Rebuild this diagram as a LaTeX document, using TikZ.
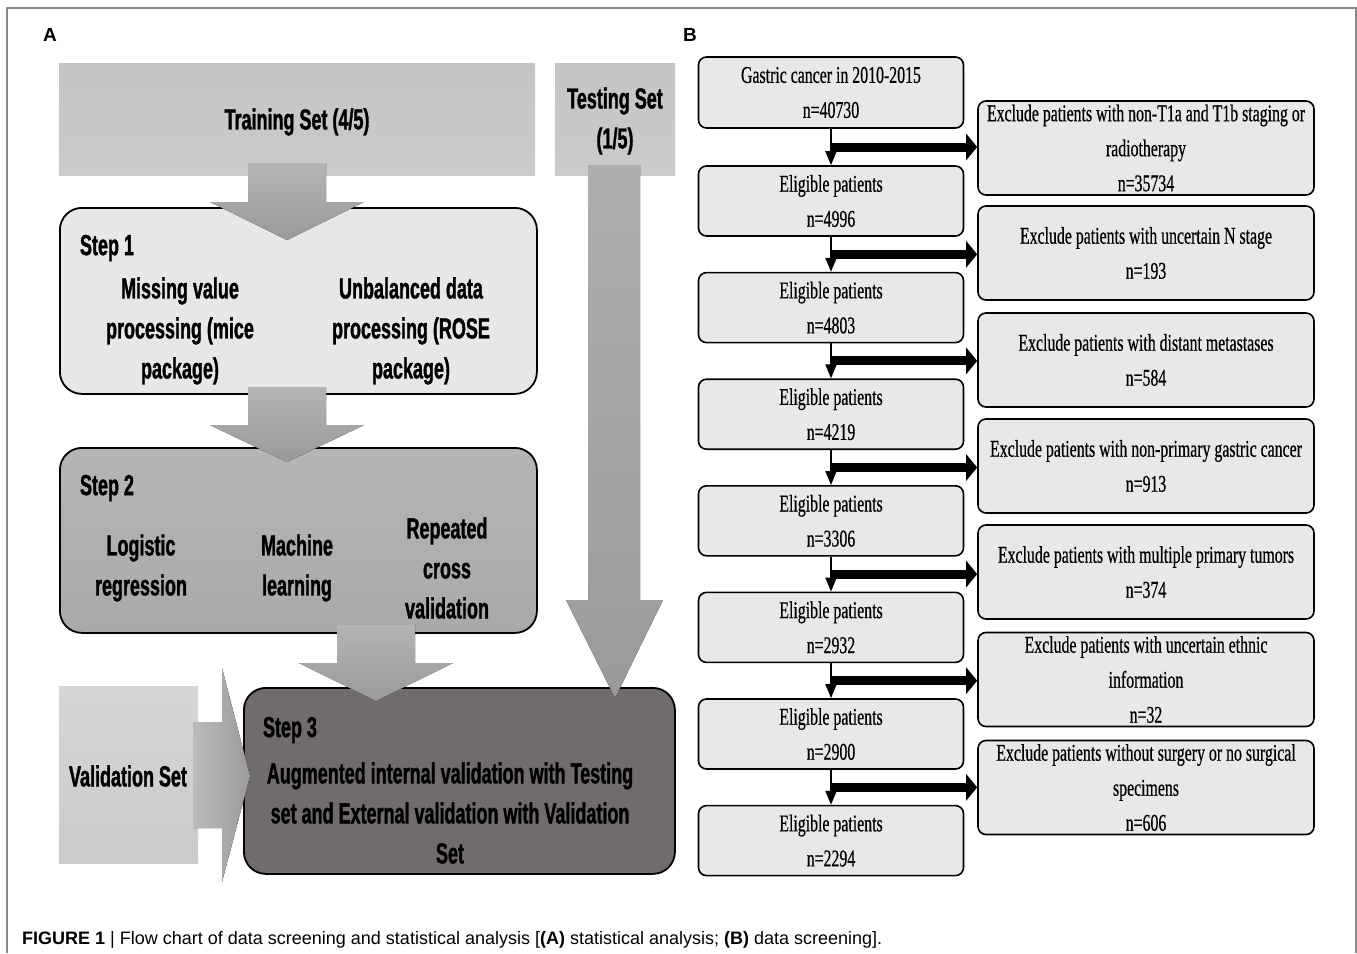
\documentclass[tikz,border=0pt]{standalone}
\usepackage{fontspec}
\setmainfont{Liberation Sans}
\newfontfamily\Acond[FakeStretch=0.62,FakeBold=1.2]{Liberation Sans Bold}
\newfontfamily\Bcond[FakeStretch=0.66,FakeBold=0.5]{Liberation Serif}
\newfontfamily\capfont{Liberation Sans}
\usetikzlibrary{arrows.meta,calc}
\definecolor{framegray}{HTML}{8A8A8A}
\definecolor{setgray}{HTML}{CBCBCB}
\definecolor{setgraytop}{HTML}{C4C4C4}
\definecolor{stepone}{HTML}{E7E7E7}
\definecolor{steptwo}{HTML}{A9A9A9}
\definecolor{stepthree}{HTML}{716B6C}
\definecolor{arrowlight}{HTML}{B4B4B4}
\definecolor{arrowdark}{HTML}{9A9A9A}
\definecolor{bboxgray}{HTML}{E8E8E8}
\begin{document}
\begin{tikzpicture}[x=1pt,y=-1pt,
  setbox/.style={inner sep=0pt, top color=setgraytop, bottom color=setgray, anchor=north west},
  stepbox/.style={draw=black, line width=1.8pt, rounded corners=22pt, inner sep=0pt, anchor=north west},
  atext/.style={font=\fontsize{29}{40}\selectfont\Acond, align=center, inner sep=0pt},
  fatarrow/.style={top color=arrowlight, bottom color=arrowdark},
  lbox/.style={draw=black, line width=1.6pt, rounded corners=8pt, fill=bboxgray, minimum width=265pt, minimum height=70pt, align=center, inner sep=0pt, font=\fontsize{24}{35}\selectfont\Bcond},
  rbox/.style={draw=black, line width=1.6pt, rounded corners=8pt, fill=bboxgray, minimum width=336pt, minimum height=94pt, align=center, inner sep=0pt, font=\fontsize{24}{35}\selectfont\Bcond},
  vline/.style={line width=2pt, -{Triangle[length=14pt,width=11pt]}},
  hline/.style={line width=9pt, -{Triangle[length=11pt,width=26pt]}},
  panellabel/.style={font=\fontsize{19}{22}\selectfont\bfseries, inner sep=0pt}
]
\useasboundingbox (0,0) rectangle (1357,953);
% frame
\draw[framegray, line width=2pt] (7,953) -- (7,8) -- (1356,8) -- (1356,953);
\node[panellabel] (labA) at (50,35) {A};
\node[panellabel] (labB) at (690,35) {B};

% ---------- Panel A ----------
\node[setbox, minimum width=476pt, minimum height=112pt] (train) at (59,63) {};
\node[atext] (traint) at (297,122) {Training Set (4/5)};
\node[setbox, minimum width=120pt, minimum height=112pt] (test) at (555,63) {};
\node[atext] (testt) at (615,121) {Testing Set\\(1/5)};

\node[stepbox, fill=stepone, minimum width=477pt, minimum height=186pt] (s1) at (59,207) {};
\node[stepbox, top color=steptwo!85!white, bottom color=steptwo, minimum width=477pt, minimum height=185pt] (s2) at (59,447) {};
\node[setbox, minimum width=139pt, minimum height=177pt, top color=setgray!80!white, bottom color=setgray] (valid) at (59,686) {};
\node[stepbox, fill=stepthree, minimum width=431pt, minimum height=186pt] (s3) at (243,687) {};

% fat arrows
\fill[fatarrow] (248,163) -- (326,163) -- (326,202) -- (364,202) -- (287,240) -- (210,202) -- (248,202) -- cycle;
\fill[fatarrow] (248,387) -- (326,387) -- (326,425) -- (364,425) -- (287,462) -- (210,425) -- (248,425) -- cycle;
\fill[fatarrow] (337,625) -- (415,625) -- (415,663) -- (453,663) -- (376,701) -- (299,663) -- (337,663) -- cycle;
\fill[top color=arrowdark!80!white, bottom color=arrowdark] (588,165) -- (640,165) -- (640,600) -- (663,600) -- (615,698) -- (566,600) -- (588,600) -- cycle;
\fill[left color=arrowlight!90!white, right color=arrowdark] (193,722) -- (222,722) -- (222,668) -- (250,776) -- (222,882) -- (222,828) -- (193,828) -- cycle;

% step texts
\node[atext] (s1t) at (107,248) {Step 1};
\node[atext] (s1a) at (180,331) {Missing value\\processing (mice\\package)};
\node[atext] (s1b) at (411,331) {Unbalanced data\\processing (ROSE\\package)};
\node[atext] (s2t) at (107,488) {Step 2};
\node[atext] (s2a) at (141,568) {Logistic\\regression};
\node[atext] (s2b) at (297,568) {Machine\\learning};
\node[atext] (s2c) at (447,568) {Repeated\\cross\\validation};
\node[atext] (s3t) at (290,730) {Step 3};
\node[atext] (s3a) at (450,813) {Augmented internal validation with Testing\\set and External validation with Validation\\Set};
\node[atext] (validt) at (128,776) {Validation Set};

% ---------- Panel B ----------
\node[lbox, minimum height=71pt] (l1) at (831,92.5) {Gastric cancer in 2010-2015\\n=40730};
\node[lbox] (l2) at (831,201) {Eligible patients\\n=4996};
\node[lbox] (l3) at (831,307.6) {Eligible patients\\n=4803};
\node[lbox] (l4) at (831,414.2) {Eligible patients\\n=4219};
\node[lbox] (l5) at (831,520.8) {Eligible patients\\n=3306};
\node[lbox] (l6) at (831,627.4) {Eligible patients\\n=2932};
\node[lbox] (l7) at (831,734) {Eligible patients\\n=2900};
\node[lbox] (l8) at (831,840.6) {Eligible patients\\n=2294};

\node[rbox] (r1) at (1146,148) {Exclude patients with non-T1a and T1b staging or\\radiotherapy\\n=35734};
\node[rbox] (r2) at (1146,253) {Exclude patients with uncertain N stage\\n=193};
\node[rbox] (r3) at (1146,360) {Exclude patients with distant metastases\\n=584};
\node[rbox] (r4) at (1146,466) {Exclude patients with non-primary gastric cancer\\n=913};
\node[rbox] (r5) at (1146,572) {Exclude patients with multiple primary tumors\\n=374};
\node[rbox] (r6) at (1146,679.5) {Exclude patients with uncertain ethnic\\information\\n=32};
\node[rbox] (r7) at (1146,787.5) {Exclude patients without surgery or no surgical\\specimens\\n=606};

\foreach \a/\b [count=\i] in {l1/l2,l2/l3,l3/l4,l4/l5,l5/l6,l6/l7,l7/l8}{
  \draw[vline] (\a.south) -- (\b.north);
  \coordinate (m\i) at ($(\a.south)!0.5!(\b.north)$);
  \draw[hline] (m\i) -- (m\i -| r\i.west);
}

% caption
\node[anchor=base west, inner sep=0pt, font=\fontsize{18}{20}\selectfont\capfont] (cap) at (22,944) {\textbf{FIGURE 1} | Flow chart of data screening and statistical analysis [\textbf{(A)} statistical analysis; \textbf{(B)} data screening].};
\end{tikzpicture}
\end{document}
